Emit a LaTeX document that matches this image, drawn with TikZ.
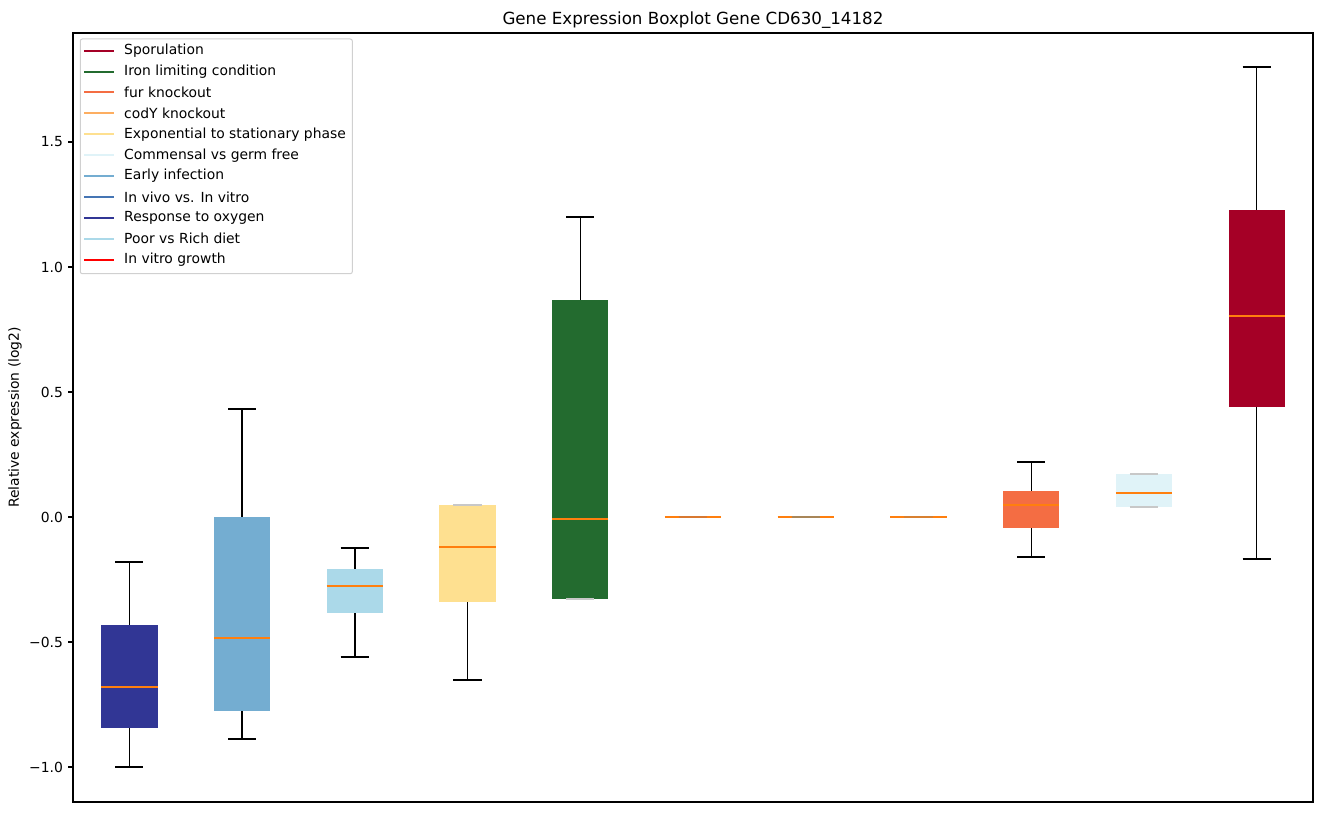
\documentclass[tikz,border=0pt]{standalone}
\usepackage{fontspec}
\setmainfont{DejaVu Sans}
\usetikzlibrary{positioning}

\definecolor{sporu}{HTML}{A50026}
\definecolor{iron}{HTML}{236B2F}
\definecolor{fur}{HTML}{F46D43}
\definecolor{cody}{HTML}{FDAE61}
\definecolor{expo}{HTML}{FEE090}
\definecolor{commensal}{HTML}{E0F3F8}
\definecolor{early}{HTML}{74ADD1}
\definecolor{invivo}{HTML}{4575B4}
\definecolor{oxygen}{HTML}{313695}
\definecolor{poor}{HTML}{ABD9E9}
\definecolor{invitro}{HTML}{FF0000}
\definecolor{medorange}{HTML}{FF7F0E}
\definecolor{legendgrey}{HTML}{D0D0D0}
\definecolor{capgrey}{HTML}{C8C8C8}
\definecolor{capsix}{HTML}{D87830}
\definecolor{capseven}{HTML}{A88658}
\definecolor{capeight}{HTML}{D88030}

\tikzset{
    whisker/.style={line width=1.4pt},
    medline/.style={draw=medorange, line width=1.6pt},
    legline/.style={line width=2pt},
    smalltext/.style={font=\fontsize{13.9}{16}\selectfont, inner sep=0pt},
}

\begin{document}
\begin{tikzpicture}[x=1pt, y=1pt]
    \useasboundingbox (0,0) rectangle (1322,812);

    % boxes, one per condition (pixel rows from the y axis: 0 at 295, 250 per unit)
    \begin{scope}[shift={(16.64pt,295pt)}, x=112.73pt]
        \foreach \i/\col/\wlo/\qlo/\med/\qhi/\whi/\clo/\cup in {
            1/oxygen/-250/-211/-170/-108/-45/black/black,
            2/early/-222/-194/-121/0/108/black/black,
            3/poor/-140/-96/-69/-52/-31/black/black,
            4/expo/-163/-85/-30/12/12/black/capgrey,
            5/iron/-82/-82/-2/217/300/capgrey/black,
            6/invitro/0/0/0/0/0/capsix/capsix,
            7/invivo/0/0/0/0/0/capseven/capseven,
            8/cody/0/0/0/0/0/capeight/capeight,
            9/fur/-40/-11/12/26/55/black/black,
            10/commensal/10/10/24/43/43/capgrey/capgrey,
            11/sporu/-42/110/201/307/450/black/black} {
            \draw[whisker] (\i,\wlo) -- (\i,\qlo) (\i,\qhi) -- (\i,\whi);
            \fill[fill=\col] (\i-0.25,\qlo) rectangle (\i+0.25,\qhi);
            \draw[medline] (\i-0.25,\med) -- (\i+0.25,\med);
            \draw[whisker, draw=\clo] (\i-0.125,\wlo) -- (\i+0.125,\wlo);
            \draw[whisker, draw=\cup] (\i-0.125,\whi) -- (\i+0.125,\whi);
        }
    \end{scope}

    % axes frame and ticks
    \draw[line width=1.1pt] (73,10) rectangle (1313,779);
    \foreach \v/\lab [count=\n] in {-1.0/−1.0, -0.5/−0.5, 0.0/0.0, 0.5/0.5, 1.0/1.0, 1.5/1.5} {
        \draw[line width=1.1pt] (73,295+250*\v) -- (68.1,295+250*\v);
        \node[smalltext, anchor=east] (tick\n) at (63.2,295+250*\v) {\lab};
    }

    \node[smalltext, rotate=90] (ylab) at (15,394.5) {Relative expression (log2)};
    \node[anchor=base, inner sep=0pt, font=\fontsize{16.7}{20}\selectfont] (title) at (693,787.3) {Gene Expression Boxplot Gene CD630\_14182};

    % legend
    \draw[draw=legendgrey, fill=white, rounded corners=2pt, line width=1pt] (80.3,773) rectangle (352.3,538.3);
    \foreach \col/\lab [count=\k from 0] in {
        sporu/Sporulation,
        iron/Iron limiting condition,
        fur/fur knockout,
        cody/codY knockout,
        expo/Exponential to stationary phase,
        commensal/Commensal vs germ free,
        early/Early infection,
        invivo/In vivo vs. In vitro,
        oxygen/Response to oxygen,
        poor/Poor vs Rich diet,
        invitro/In vitro growth} {
        \draw[legline, draw=\col] (84,761.3-20.9*\k) -- (113.7,761.3-20.9*\k);
        \node[smalltext, anchor=west] (leg\k) at (124,761.3-20.9*\k) {\lab};
    }
\end{tikzpicture}
\end{document}
